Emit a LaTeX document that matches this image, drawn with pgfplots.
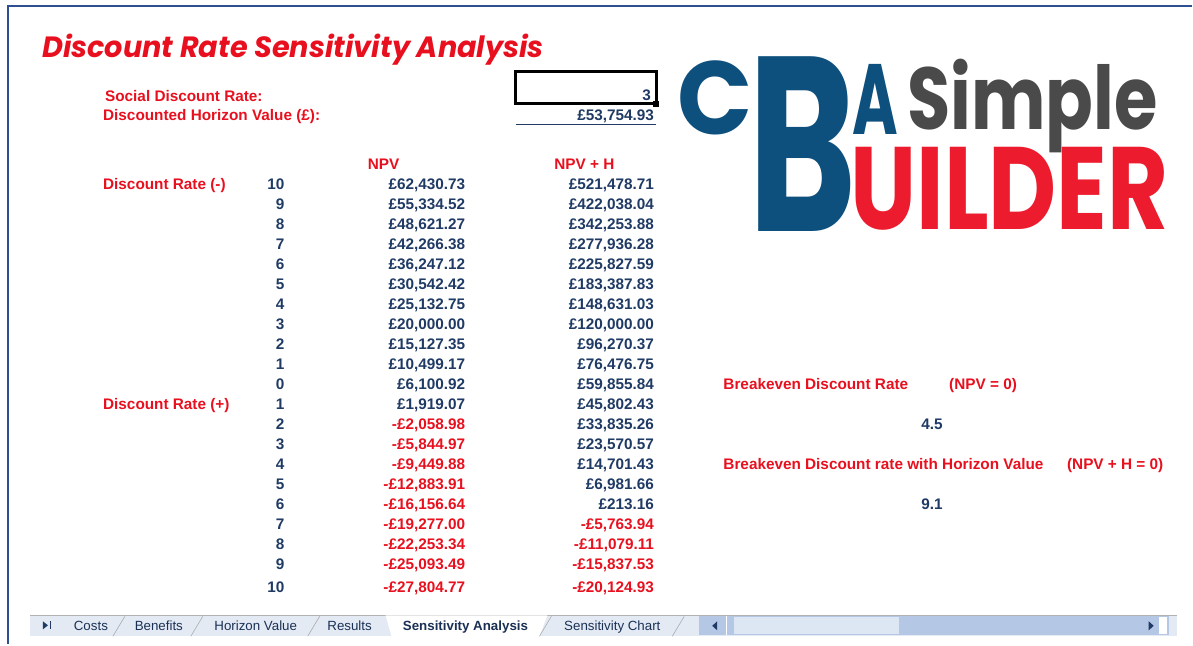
\documentclass[border=0pt]{standalone}
\usepackage{pgfplots}
\pgfplotsset{compat=1.18}
\usepackage{pgfplotstable}
\usepackage{fontspec}
\setmainfont{Liberation Sans}
\newfontfamily\logofont{Poppins}

\definecolor{xlred}{HTML}{E8101E}
\definecolor{xlblue}{HTML}{1F3A64}
\definecolor{logoblue}{HTML}{0D4F7D}
\definecolor{logored}{HTML}{EC1C2E}
\definecolor{logogray}{HTML}{4A4A4A}
\definecolor{frameblue}{HTML}{2E5090}
\definecolor{tabbg}{HTML}{E4EAF4}
\definecolor{scrollbg}{HTML}{B4C7E4}
\definecolor{thumb}{HTML}{DDE6F3}

\pgfkeys{/pgf/number format/assume math mode=true}
\newcommand\cellfont{\fontsize{11.5}{13}\selectfont\bfseries}

% money format: -£1,234.56 in red, £1,234.56 in blue
\newcommand\money[1]{\pgfmathprintnumber[fixed,fixed zerofill,precision=2,1000 sep={,}]{#1}}
\def\gbpsplit#1#2\relax{%
  \ifx-#1\textcolor{xlred}{-£\money{#2}}%
  \else\textcolor{xlblue}{£\money{#1#2}}\fi}
\newcommand\gbp[1]{\edef\gbpv{#1}\expandafter\gbpsplit\gbpv\relax}

% row = baseline in px, rate, NPV, NPV + H
\pgfplotstableread{
row rate npv npvh
190 10 62430.73 521478.71
210 9 55334.52 422038.04
230 8 48621.27 342253.88
250 7 42266.38 277936.28
270 6 36247.12 225827.59
290 5 30542.42 183387.83
310 4 25132.75 148631.03
330 3 20000.00 120000.00
350 2 15127.35 96270.37
370 1 10499.17 76476.75
390 0 6100.92 59855.84
410 1 1919.07 45802.43
430 2 -2058.98 33835.26
450 3 -5844.97 23570.57
470 4 -9449.88 14701.43
490 5 -12883.91 6981.66
510 6 -16156.64 213.16
530 7 -19277.00 -5763.94
550 8 -22253.34 -11079.11
570 9 -25093.49 -15837.53
593 10 -27804.77 -20124.93
}\sens

\begin{document}
\begin{tikzpicture}
\begin{axis}[
  width=894.75pt, height=483.75pt, scale only axis,
  xmin=0, xmax=1193, ymin=0, ymax=645, y dir=reverse,
  axis lines=none, clip=false,
  every node near coord/.append style={inner sep=0pt, font=\cellfont, anchor=base east},
]
\path (axis cs:0,0) rectangle (axis cs:1193,645);
% frame
\draw[frameblue, line width=2pt] (axis cs:8,645) -- (axis cs:8,6) -- (axis cs:1193,6);

% title
\node[anchor=base west, inner sep=0pt, text=xlred, xscale=0.98]
  at (axis cs:42,58) {\logofont\fontsize{22}{24}\selectfont\bfseries\itshape Discount Rate Sensitivity Analysis};

% labels
\begin{scope}[every node/.style={anchor=base west, inner sep=0pt, font=\cellfont, text=xlred}]
\node at (axis cs:105,102) {Social Discount Rate:};
\node at (axis cs:103,121) {Discounted Horizon Value (£):};
\node[anchor=base] at (axis cs:384,170) {NPV};
\node[anchor=base] at (axis cs:585,170) {NPV + H};
\node at (axis cs:103,190) {Discount Rate (-)};
\node at (axis cs:103,410) {Discount Rate (+)};
\node at (axis cs:724,390) {Breakeven Discount Rate};
\node at (axis cs:950,390) {(NPV = 0)};
\node at (axis cs:724,470) {Breakeven Discount rate with Horizon Value};
\node at (axis cs:1068,470) {(NPV + H = 0)};
\end{scope}
\draw[black, line width=2.2pt] (axis cs:516,72) rectangle (axis cs:657,104);
\fill[black] (axis cs:654,101) rectangle (axis cs:660,107);
\draw[xlblue, line width=0.8pt] (axis cs:517,125) -- (axis cs:657,125);

% input values
\addplot[draw=none, mark=none, point meta=explicit symbolic,
  nodes near coords={\textcolor{xlblue}{\pgfplotspointmeta}}]
  coordinates {(652,101) [3]};
\addplot[draw=none, mark=none, point meta=explicit symbolic,
  nodes near coords={\gbp{\pgfplotspointmeta}}]
  coordinates {(655,121) [53754.93]};

% table columns
\addplot[draw=none, mark=none, point meta=explicit symbolic,
  nodes near coords={\textcolor{xlblue}{\pgfplotspointmeta}}]
  table[x expr=285, y=row, meta=rate]{\sens};
\addplot[draw=none, mark=none, point meta=explicit symbolic,
  nodes near coords={\gbp{\pgfplotspointmeta}}]
  table[x expr=466, y=row, meta=npv]{\sens};
\addplot[draw=none, mark=none, point meta=explicit symbolic,
  nodes near coords={\gbp{\pgfplotspointmeta}}]
  table[x expr=655, y=row, meta=npvh]{\sens};

% breakeven rates
\addplot[draw=none, mark=none, point meta=explicit symbolic,
  nodes near coords={\textcolor{xlblue}{\pgfplotspointmeta}},
  every node near coord/.append style={anchor=base}]
  coordinates {(933,430) [4.5] (933,510) [9.1]};

% logo
\begin{scope}[every node/.style={anchor=base west, inner sep=0pt}]
\node[text=logoblue, xscale=0.95] at (axis cs:678,135) {\logofont\fontsize{78}{80}\selectfont\bfseries C};
\node[text=logoblue, xscale=0.66] at (axis cs:749,232) {\logofont\fontsize{187}{190}\selectfont\bfseries B};
\node[text=logoblue, xscale=0.62] at (axis cs:853,135) {\logofont\fontsize{75}{78}\selectfont\bfseries A};
\node[text=logogray, xscale=0.8] at (axis cs:908,130) {\logofont\fontsize{66}{70}\selectfont\bfseries Simple};
\node[text=logored, xscale=0.8] at (axis cs:851,230) {\logofont\fontsize{88}{90}\selectfont\bfseries UILDER};
\end{scope}

% sheet tabs
\fill[tabbg] (axis cs:30,616) rectangle (axis cs:1178,637);
\draw[gray!60] (axis cs:30,616) -- (axis cs:1178,616);
\fill[white] (axis cs:386,616) -- (axis cs:392,637) -- (axis cs:540,637) -- (axis cs:548,616) -- cycle;
\draw[gray!70] (axis cs:113,637) -- (axis cs:125,617);
\draw[gray!70] (axis cs:191,637) -- (axis cs:203,617);
\draw[gray!70] (axis cs:308,637) -- (axis cs:320,617);
\draw[gray!70] (axis cs:540,637) -- (axis cs:552,617);
\draw[gray!70] (axis cs:673,637) -- (axis cs:685,617);
\fill[xlblue] (axis cs:43,622) -- (axis cs:48,626) -- (axis cs:43,630) -- cycle;
\draw[xlblue] (axis cs:50,622) -- (axis cs:50,630);
\begin{scope}[every node/.style={anchor=base, inner sep=0pt, text=xlblue!85!black, font=\fontsize{10}{12}\selectfont}]
\node at (axis cs:91,631) {Costs};
\node at (axis cs:159,631) {Benefits};
\node at (axis cs:256,631) {Horizon Value};
\node at (axis cs:350,631) {Results};
\node[font=\fontsize{10}{12}\selectfont\bfseries] at (axis cs:466,631) {Sensitivity Analysis};
\node at (axis cs:613,631) {Sensitivity Chart};
\end{scope}
\fill[scrollbg] (axis cs:700,617) rectangle (axis cs:1170,636);
\fill[thumb] (axis cs:735,618) rectangle (axis cs:900,635);
\draw[white] (axis cs:727,617) -- (axis cs:727,636);
\fill[xlblue] (axis cs:718,622) -- (axis cs:713,626.5) -- (axis cs:718,631) -- cycle;
\fill[xlblue] (axis cs:1150,622) -- (axis cs:1155,626.5) -- (axis cs:1150,631) -- cycle;
\fill[white] (axis cs:1160,618) rectangle (axis cs:1168,635);
\end{axis}
\end{tikzpicture}
\end{document}
